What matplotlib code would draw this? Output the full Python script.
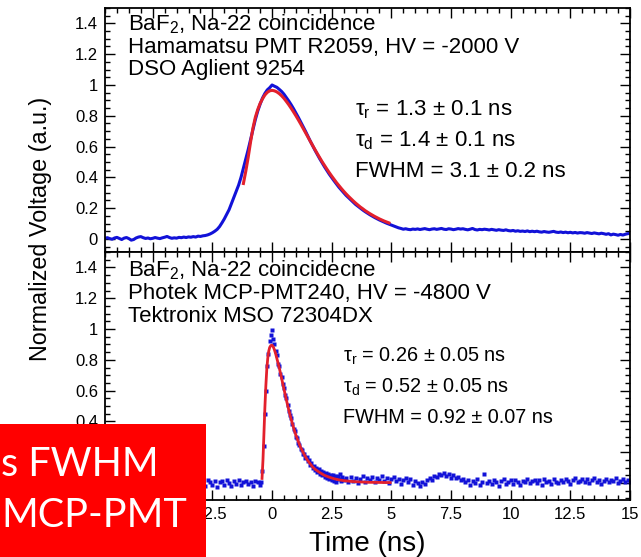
import numpy as np
import matplotlib
matplotlib.use("Agg")
import matplotlib.pyplot as plt
from matplotlib.ticker import MultipleLocator, FuncFormatter
from matplotlib.patches import Rectangle

# ---------------- data ----------------
# Hamamatsu PMT R2059 waveform, sampled every 0.1 ns starting at -7.0 ns
pmt_t_start, pmt_t_step = -7.0, 0.1
pmt_signal = [
    0.004, 0.008, 0.002, -0.002, 0.006, 0.010, 0.003, -0.004, 0.005, 0.009,
    0.002, -0.008, -0.004, 0.006, 0.012, 0.015, 0.008, 0.003, 0.006, 0.001,
    0.004, 0.009, 0.005, 0.002, 0.007, 0.011, 0.016, 0.009, 0.004, 0.007,
    0.005, 0.010, 0.008, 0.012, 0.009, 0.013, 0.011, 0.015, 0.012, 0.018,
    0.016, 0.020, 0.022, 0.026, 0.032, 0.040, 0.050, 0.062, 0.080, 0.104,
    0.130, 0.160, 0.190, 0.230, 0.270, 0.310, 0.350, 0.400, 0.460, 0.520,
    0.580, 0.645, 0.710, 0.775, 0.830, 0.875, 0.915, 0.945, 0.968, 0.982,
    1.000, 0.992, 0.985, 0.972, 0.958, 0.940, 0.918, 0.896, 0.872, 0.846,
    0.818, 0.790, 0.760, 0.730, 0.700, 0.668, 0.636, 0.606, 0.576, 0.548,
    0.520, 0.494, 0.468, 0.444, 0.420, 0.398, 0.377, 0.356, 0.336, 0.318,
    0.300, 0.283, 0.268, 0.252, 0.238, 0.224, 0.212, 0.200, 0.188, 0.177,
    0.167, 0.157, 0.148, 0.139, 0.131, 0.123, 0.116, 0.109, 0.102, 0.096,
    0.090, 0.084, 0.078, 0.072, 0.068, 0.063, 0.066, 0.062, 0.060, 0.064,
    0.062, 0.065, 0.061, 0.064, 0.067, 0.063, 0.060, 0.064, 0.066, 0.062,
    0.065, 0.068, 0.063, 0.061, 0.066, 0.064, 0.060, 0.063, 0.067, 0.064,
    0.066, 0.062, 0.059, 0.063, 0.068, 0.061, 0.058, 0.062, 0.060, 0.063,
    0.061, 0.058, 0.062, 0.059, 0.056, 0.060, 0.057, 0.055, 0.059, 0.054,
    0.052, 0.055, 0.050, 0.053, 0.049, 0.051, 0.048, 0.052, 0.047, 0.050,
    0.047, 0.050, 0.046, 0.044, 0.048, 0.045, 0.043, 0.046, 0.049, 0.044,
    0.042, 0.045, 0.041, 0.044, 0.040, 0.043, 0.039, 0.042, 0.038, 0.041,
    0.040, 0.037, 0.041, 0.038, 0.035, 0.039, 0.036, 0.033, 0.037, 0.034,
    0.030, 0.034, 0.026, 0.031, 0.028, 0.024, 0.029, 0.025, 0.030, 0.034,
    0.036,
]

# Fitted pulse shape for the PMT, every 0.1 ns from -1.2 ns
pmt_fit_t_start, pmt_fit_t_step = -1.2, 0.1
pmt_fit = [
    0.360, 0.440, 0.530, 0.630, 0.720, 0.790, 0.840, 0.880, 0.910, 0.935,
    0.952, 0.962, 0.965, 0.962, 0.955, 0.944, 0.930, 0.913, 0.893, 0.872,
    0.849, 0.825, 0.800, 0.774, 0.747, 0.719, 0.691, 0.663, 0.635, 0.607,
    0.580, 0.553, 0.527, 0.501, 0.477, 0.453, 0.430, 0.408, 0.387, 0.366,
    0.347, 0.328, 0.310, 0.293, 0.277, 0.262, 0.247, 0.233, 0.220, 0.207,
    0.196, 0.184, 0.174, 0.164, 0.155, 0.146, 0.138, 0.130, 0.123, 0.116,
    0.110, 0.104,
]

# Photek MCP-PMT240 samples: pre-pulse baseline (0.1 ns steps from -7.0 ns)
mcp_pre_t_start, mcp_pre_t_step = -7.0, 0.1
mcp_pre = [
    0.012, -0.018, 0.004, 0.020, -0.010, 0.008, -0.022, 0.014, -0.004, 0.018,
    -0.012, 0.006, 0.022, -0.016, 0.002, 0.012, -0.020, 0.010, -0.006, 0.016,
    0.000, -0.014, 0.018, 0.006, -0.024, 0.010, 0.020, -0.008, 0.004, -0.016,
    0.014, -0.004, 0.022, -0.012, 0.008, -0.020, 0.016, 0.002, -0.010, 0.018,
    -0.006, 0.012, -0.018, 0.020, 0.004, -0.012, 0.016, -0.024, 0.008, 0.014,
    -0.010, 0.018, 0.002, -0.016, 0.012, -0.004, 0.022, -0.014, 0.006, 0.016,
    -0.008, 0.010, -0.020, 0.014, 0.004, -0.012,
]
# pulse region (0.05 ns steps from -0.45 ns)
mcp_pulse_t_start, mcp_pulse_t_step = -0.45, 0.05
mcp_pulse = [
    0.010, 0.080, 0.240, 0.450, 0.600, 0.760, 0.840, 0.920, 0.960, 0.995,
    0.935, 0.905, 0.860, 0.830, 0.775, 0.760, 0.705, 0.690, 0.640, 0.620,
    0.570, 0.550, 0.505, 0.470, 0.445, 0.420, 0.385, 0.350, 0.340, 0.300,
    0.295, 0.262, 0.250, 0.222, 0.215, 0.188, 0.190, 0.160, 0.168, 0.140,
    0.148, 0.118, 0.130, 0.100, 0.112, 0.085, 0.098, 0.070, 0.090, 0.062,
    0.080, 0.050, 0.072, 0.040, 0.065, 0.030, 0.060, 0.025, 0.055, 0.020,
    0.050, 0.015, 0.048, 0.010, 0.045, 0.028, 0.058, 0.012, 0.042, 0.020,
]
# tail (0.1 ns steps from 3.1 ns)
mcp_post_t_start, mcp_post_t_step = 3.1, 0.1
mcp_post = [
    0.030, 0.008, 0.042, 0.015, 0.036, -0.002, 0.028, 0.045, 0.010, 0.032,
    0.018, 0.040, 0.004, 0.030, 0.022, 0.046, 0.012, 0.035, 0.000, 0.026,
    0.038, 0.012, 0.028, -0.004, 0.020, 0.034, 0.006, 0.024, -0.010, 0.016,
    0.002, -0.016, 0.010, -0.008, 0.022, 0.030, 0.018, 0.045, 0.040, 0.062,
    0.050, 0.068, 0.044, 0.058, 0.036, 0.052, 0.030, 0.040, 0.018, 0.028,
    0.006, 0.020, -0.010, 0.012, 0.000, 0.024, -0.014, 0.008, 0.060, 0.002,
    0.016, -0.008, 0.020, 0.004, -0.018, 0.012, 0.026, -0.004, 0.010, 0.018,
    -0.006, 0.022, 0.004, -0.012, 0.016, 0.006, 0.028, -0.002, 0.012, 0.020,
    0.002, 0.018, -0.010, 0.024, 0.008, 0.014, -0.004, 0.026, 0.010, 0.000,
    0.020, 0.006, 0.028, 0.012, -0.008, 0.018, 0.030, 0.004, 0.016, 0.024,
    0.008, 0.026, 0.000, 0.018, 0.032, 0.010, 0.022, -0.006, 0.014, 0.028,
    0.006, 0.020, 0.012, 0.030, -0.002, 0.016, 0.024, 0.008, 0.018, 0.010,
]

# Fitted pulse shape for the MCP-PMT
mcp_fit_t = [-0.42, -0.38, -0.34, -0.30, -0.26, -0.22, -0.18, -0.14, -0.10, -0.05,
             0.00, 0.05, 0.10, 0.15, 0.20, 0.30, 0.40, 0.50, 0.60, 0.70,
             0.80, 0.90, 1.00, 1.10, 1.20, 1.30, 1.40, 1.50, 1.60, 1.70,
             1.80, 2.00, 2.20, 2.40, 2.60, 2.80, 3.00, 3.30, 3.60, 4.00,
             4.50, 4.95]
mcp_fit = [0.030, 0.150, 0.320, 0.490, 0.630, 0.740, 0.810, 0.855, 0.880, 0.893,
           0.895, 0.885, 0.865, 0.840, 0.810, 0.750, 0.680, 0.610, 0.540, 0.475,
           0.415, 0.360, 0.310, 0.270, 0.230, 0.200, 0.170, 0.145, 0.125, 0.105,
           0.090, 0.068, 0.050, 0.038, 0.028, 0.021, 0.016, 0.011, 0.008, 0.005,
           0.004, 0.003]

top_header = ["BaF$_\\mathregular{2}$, Na-22 coincidence",
              "Hamamatsu PMT R2059, HV = -2000 V",
              "DSO Aglient 9254"]
top_params = ["τ$_\\mathregular{r}$ = 1.3 ± 0.1 ns",
              "τ$_\\mathregular{d}$ = 1.4 ± 0.1 ns",
              "FWHM = 3.1 ± 0.2 ns"]
bot_header = ["BaF$_\\mathregular{2}$, Na-22 coincidecne",
              "Photek MCP-PMT240, HV = -4800 V",
              "Tektronix MSO 72304DX"]
bot_params = ["τ$_\\mathregular{r}$ = 0.26 ± 0.05 ns",
              "τ$_\\mathregular{d}$ = 0.52 ± 0.05 ns",
              "FWHM = 0.92 ± 0.07 ns"]
banner_lines = ["s FWHM", "MCP-PMT"]

# ---------------- figure ----------------
W, H = 641, 557
plt.rcParams['font.family'] = ['Liberation Sans', 'DejaVu Sans']
fig = plt.figure(figsize=(W / 100, H / 100), dpi=100)

def frac_x(px):
    return px / W

def frac_y(py):
    return 1 - py / H

left, right = frac_x(105), frac_x(630)
mid = frac_y(252)
ax_top = fig.add_axes([left, mid, right - left, frac_y(8) - mid])
ax_bot = fig.add_axes([left, frac_y(500), right - left, mid - frac_y(500)])

blue = '#1212d8'
red = '#e3202c'

def series(t0, dt, vals):
    return t0 + dt * np.arange(len(vals)), np.asarray(vals)

t, v = series(pmt_t_start, pmt_t_step, pmt_signal)
ax_top.plot(t, v, color=blue, lw=2.2, solid_joinstyle='round')
t, v = series(pmt_fit_t_start, pmt_fit_t_step, pmt_fit)
ax_top.plot(t, v, color=red, lw=2.2)

for t0, dt, vals in [(mcp_pre_t_start, mcp_pre_t_step, mcp_pre),
                     (mcp_pulse_t_start, mcp_pulse_t_step, mcp_pulse),
                     (mcp_post_t_start, mcp_post_t_step, mcp_post)]:
    t, v = series(t0, dt, vals)
    ax_bot.plot(t, v, ls='none', marker='s', ms=2.3, mec='none', color=blue)
ax_bot.plot(mcp_fit_t, mcp_fit, color=red, lw=2.0)

def make_fmt(hidden=()):
    def f(x, pos):
        x = round(x, 6)
        if any(abs(x - h) < 1e-6 for h in hidden):
            return ''
        return '%g' % x
    return FuncFormatter(f)

for ax, ylo in [(ax_top, -0.085), (ax_bot, -0.11)]:
    ax.set_xlim(-7, 15)
    ax.xaxis.set_major_locator(MultipleLocator(2.5))
    ax.xaxis.set_minor_locator(MultipleLocator(0.5))
    ax.set_yticks([0, 0.2, 0.4, 0.6, 0.8, 1.0, 1.2, 1.4])
    ax.yaxis.set_minor_locator(MultipleLocator(0.05))
    ax.set_ylim(ylo, 1.5)
    ax.tick_params(which='both', direction='in', top=True, right=True,
                   width=1.0, labelsize=12, pad=5)
    ax.tick_params(which='major', length=7)
    ax.tick_params(which='minor', length=3.5)
    for s in ax.spines.values():
        s.set_linewidth(1.3)
ax_top.xaxis.set_major_formatter(make_fmt())
ax_top.yaxis.set_major_formatter(make_fmt())
ax_top.tick_params(labelbottom=False)
# labels that sit entirely under the caption banner are left blank
ax_bot.xaxis.set_major_formatter(make_fmt(hidden=(-5.0,)))
ax_bot.yaxis.set_major_formatter(make_fmt(hidden=(0.0, 0.2)))

def ax_y(ax_top_px, ax_h_px, py):
    return (ax_top_px + ax_h_px - py) / ax_h_px

def ax_x(px):
    return (px - 105) / 525

for line, base in zip(top_header, [30, 52.5, 75]):
    ax_top.text(ax_x(128), ax_y(8, 244, base), line, transform=ax_top.transAxes,
                fontsize=16, va='baseline', ha='left')
for line, base in zip(top_params, [115, 146.5, 177]):
    ax_top.text(ax_x(355), ax_y(8, 244, base), line, transform=ax_top.transAxes,
                fontsize=16, va='baseline', ha='left')
for line, base in zip(bot_header, [276, 298.5, 321.5]):
    ax_bot.text(ax_x(128), ax_y(252, 248, base), line, transform=ax_bot.transAxes,
                fontsize=16, va='baseline', ha='left')
for line, base in zip(bot_params, [362, 392.5, 423]):
    ax_bot.text(ax_x(343), ax_y(252, 248, base), line, transform=ax_bot.transAxes,
                fontsize=14.3, va='baseline', ha='left')

fig.text(frac_x(41), frac_y(229), 'Normalized Voltage (a.u.)', rotation=90,
         ha='center', va='center', fontsize=16.8)
fig.text(frac_x(367), frac_y(551), 'Time (ns)', ha='center', va='baseline',
         fontsize=20)

# red caption banner in the lower-left corner
fig.patches.append(Rectangle((0, 0), frac_x(206), frac_y(424),
                             transform=fig.transFigure, facecolor='#ff0000',
                             edgecolor='none', zorder=5))
for line, base in zip(banner_lines, [476, 527]):
    fig.text(frac_x(1), frac_y(base), line, ha='left', va='baseline', color='white',
             fontsize=28.5, family=['Lato', 'DejaVu Sans'], zorder=6)

fig.savefig('out.png', dpi=100)
